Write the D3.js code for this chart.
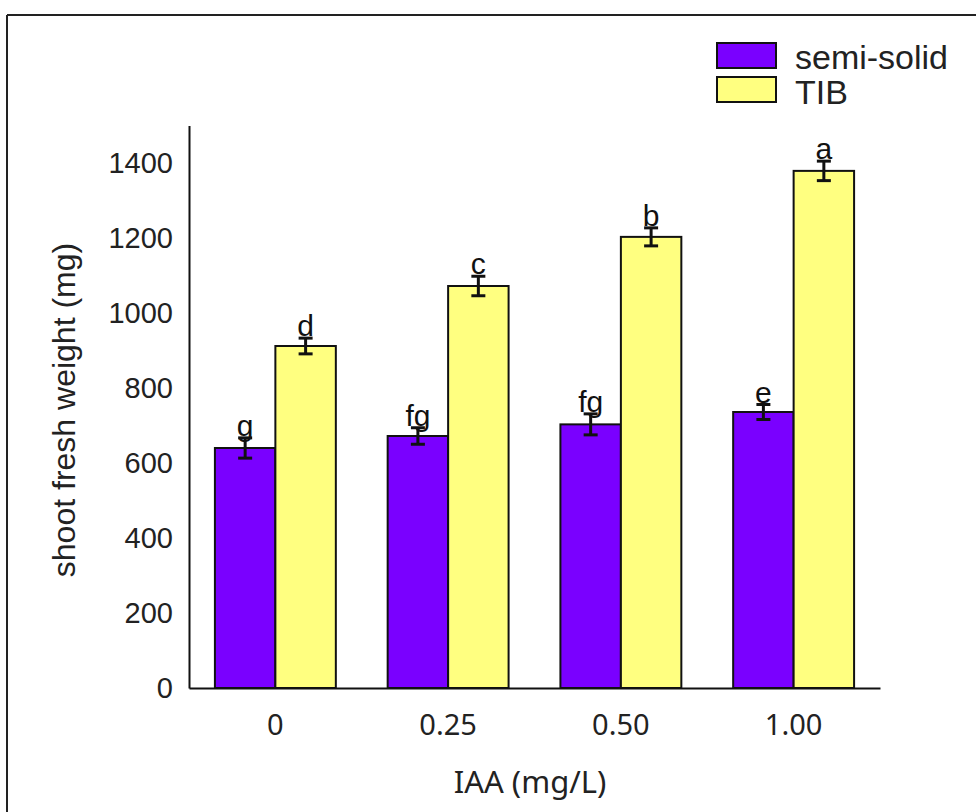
<!DOCTYPE html>
<html>
<head>
<meta charset="utf-8">
<script src="https://cdn.jsdelivr.net/npm/d3@7"></script>
<style>
  html, body { margin: 0; padding: 0; background: #fff; }
  svg { display: block; }
</style>
</head>
<body>
<script>
const categories = ["0", "0.25", "0.50", "1.00"];
const seriesNames = ["semi-solid", "TIB"];
const semiSolid = [640, 672, 703, 736];
const semiSolidErr = [27, 22, 28, 20];
const tib = [912, 1072, 1203, 1379];
const tibErr = [21, 26, 24, 26];
const semiSolidLetters = ["g", "fg", "fg", "e"];
const tibLetters = ["d", "c", "b", "a"];
const yTicks = [0, 200, 400, 600, 800, 1000, 1200, 1400];
const colors = ["#7a00ff", "#ffff80"];

const W = 976, H = 812;
const svg = d3.select("body").append("svg").attr("width", W).attr("height", H);

// outer frame (left and top edges visible)
svg.append("line").attr("x1", 7).attr("y1", 15).attr("x2", 7).attr("y2", H).attr("stroke", "#222").attr("stroke-width", 2);
svg.append("line").attr("x1", 7).attr("y1", 15).attr("x2", W).attr("y2", 15).attr("stroke", "#222").attr("stroke-width", 2);

const x0 = 189, x1 = 880, yBase = 688;
const y = d3.scaleLinear().domain([0, 1500]).range([yBase, yBase - 1500 * 0.375]);
const xg = d3.scaleBand().domain(categories).range([x0, x1]).paddingInner(0.3).paddingOuter(0.15);
const xs = d3.scaleBand().domain(seriesNames).range([0, xg.bandwidth()]).padding(0);

const data = [];
categories.forEach((c, i) => {
  data.push({cat: c, s: seriesNames[0], v: semiSolid[i], e: semiSolidErr[i], l: semiSolidLetters[i], col: colors[0]});
  data.push({cat: c, s: seriesNames[1], v: tib[i], e: tibErr[i], l: tibLetters[i], col: colors[1]});
});

// bars
svg.append("g").selectAll("rect").data(data).join("rect")
  .attr("x", d => xg(d.cat) + xs(d.s))
  .attr("y", d => y(d.v))
  .attr("width", xs.bandwidth())
  .attr("height", d => y(0) - y(d.v))
  .attr("fill", d => d.col)
  .attr("stroke", "#111")
  .attr("stroke-width", 2);

// error bars
const eb = svg.append("g").attr("stroke", "#111").attr("stroke-width", 3);
data.forEach(d => {
  const cx = xg(d.cat) + xs(d.s) + xs.bandwidth() / 2;
  eb.append("line").attr("x1", cx).attr("x2", cx).attr("y1", y(d.v + d.e)).attr("y2", y(d.v - d.e));
  eb.append("line").attr("x1", cx - 7).attr("x2", cx + 7).attr("y1", y(d.v + d.e)).attr("y2", y(d.v + d.e));
  eb.append("line").attr("x1", cx - 7).attr("x2", cx + 7).attr("y1", y(d.v - d.e)).attr("y2", y(d.v - d.e));
});

// significance letters
svg.append("g").selectAll("text").data(data).join("text")
  .attr("x", d => xg(d.cat) + xs(d.s) + xs.bandwidth() / 2)
  .attr("y", d => y(d.v + d.e) - 2)
  .attr("text-anchor", "middle")
  .attr("font-family", "Liberation Sans, Arial, sans-serif")
  .attr("font-size", 30)
  .attr("fill", "#111")
  .text(d => d.l);

// y axis
const yAxis = d3.axisLeft(y).tickValues(yTicks).tickSize(0).tickPadding(16).tickFormat(d3.format("d"));
const gy = svg.append("g").attr("transform", `translate(${x0},0)`).call(yAxis);
gy.select(".domain").attr("stroke", "#111").attr("stroke-width", 2);
gy.selectAll("text").attr("font-family", "Liberation Sans, Arial, sans-serif").attr("font-size", 29).attr("fill", "#222");

// x axis
const xAxis = d3.axisBottom(xg).tickSize(0).tickPadding(26);
const gx = svg.append("g").attr("transform", `translate(0,${yBase})`).call(xAxis);
gx.select(".domain").attr("stroke", "#111").attr("stroke-width", 2);
gx.selectAll("text").attr("font-family", "Noto Sans, sans-serif").attr("font-size", 29).attr("fill", "#222");

// axis titles
svg.append("text").attr("x", 530).attr("y", 793).attr("text-anchor", "middle")
  .attr("font-family", "Noto Sans, sans-serif").attr("font-size", 31).attr("fill", "#222")
  .text("IAA (mg/L)");
svg.append("text").attr("transform", "translate(75,410) rotate(-90)").attr("text-anchor", "middle")
  .attr("font-family", "Liberation Sans, Arial, sans-serif").attr("font-size", 32).attr("fill", "#222")
  .text("shoot fresh weight (mg)");

// legend
const lg = svg.append("g");
seriesNames.forEach((s, i) => {
  lg.append("rect").attr("x", 717).attr("y", 43 + i * 34).attr("width", 59).attr("height", 25)
    .attr("fill", colors[i]).attr("stroke", "#111").attr("stroke-width", 2);
  lg.append("text").attr("x", 795).attr("y", 69 + i * 35)
    .attr("font-family", "Liberation Sans, Arial, sans-serif").attr("font-size", 34).attr("fill", "#222")
    .text(s);
});
</script>
</body>
</html>
